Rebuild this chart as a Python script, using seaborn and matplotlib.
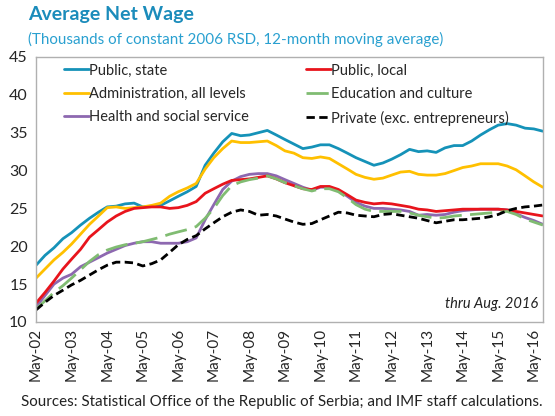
import matplotlib
matplotlib.use('Agg')
import pandas as pd
import matplotlib.pyplot as plt
import matplotlib.dates as mdates
import seaborn as sns

# quarterly readings, May-02 .. Aug-16
dates = pd.date_range("2002-05-01", periods=58, freq="3MS")

public_state = [17.5, 18.8, 19.8, 21.0, 21.8, 22.8, 23.7, 24.5, 25.2, 25.3,
                25.6, 25.7, 25.2, 25.3, 25.4, 26.0, 26.6, 27.2, 27.9, 30.7,
                32.3, 33.8, 34.9, 34.6, 34.7, 35.0, 35.3, 34.7, 34.1, 33.5,
                32.9, 33.1, 33.4, 33.4, 32.9, 32.3, 31.7, 31.2, 30.7, 31.0,
                31.5, 32.1, 32.8, 32.5, 32.6, 32.4, 33.0, 33.3, 33.3, 33.9,
                34.7, 35.4, 36.0, 36.2, 36.0, 35.6, 35.5, 35.2]
public_local = [12.5, 13.9, 15.4, 17.0, 18.3, 19.6, 21.2, 22.2, 23.2, 24.0,
                24.6, 25.0, 25.1, 25.2, 25.2, 25.0, 25.1, 25.4, 25.9, 27.0,
                27.6, 28.2, 28.7, 28.8, 28.9, 29.1, 29.3, 28.9, 28.4, 28.0,
                27.6, 27.5, 27.9, 27.9, 27.5, 26.8, 26.1, 25.8, 25.6, 25.7,
                25.6, 25.4, 25.2, 24.9, 24.8, 24.6, 24.7, 24.8, 24.9, 24.9,
                24.9, 24.9, 24.9, 24.8, 24.6, 24.4, 24.2, 24.0]
administration = [15.8, 17.0, 18.2, 19.2, 20.3, 21.6, 22.9, 24.0, 25.1, 25.2,
                  25.0, 25.1, 25.2, 25.4, 25.7, 26.6, 27.2, 27.7, 28.3, 30.2,
                  31.7, 32.9, 33.9, 33.7, 33.7, 33.8, 33.9, 33.3, 32.6, 32.3,
                  31.7, 31.6, 31.8, 31.6, 30.9, 30.2, 29.5, 29.1, 28.85, 29.0,
                  29.4, 29.8, 29.9, 29.5, 29.4, 29.4, 29.6, 30.0, 30.4, 30.6,
                  30.9, 30.9, 30.9, 30.6, 30.1, 29.3, 28.5, 27.8]
education = [11.7, 12.8, 13.9, 14.8, 15.8, 16.9, 18.0, 18.9, 19.5, 19.9,
             20.2, 20.4, 20.6, 20.9, 21.2, 21.6, 21.9, 22.2, 22.6, 23.7,
             25.0, 26.7, 28.0, 28.5, 28.8, 29.0, 29.3, 28.9, 28.4, 28.0,
             27.6, 27.3, 27.6, 27.6, 27.2, 26.4, 25.5, 24.9, 24.6, 24.6,
             24.6, 24.6, 24.4, 24.1, 23.9, 23.7, 23.8, 24.0, 24.1, 24.2,
             24.3, 24.4, 24.5, 24.6, 24.2, 23.6, 23.2, 22.8]
health = [12.0, 13.5, 15.0, 15.8, 16.3, 17.3, 17.9, 18.5, 19.1, 19.6,
          20.1, 20.4, 20.6, 20.6, 20.4, 20.4, 20.4, 20.6, 21.1, 23.5,
          25.5, 27.5, 28.6, 29.2, 29.5, 29.6, 29.6, 29.3, 28.8, 28.3,
          27.8, 27.4, 27.8, 27.8, 27.4, 26.6, 25.8, 25.3, 25.0, 25.0,
          24.9, 24.8, 24.6, 24.1, 24.2, 24.1, 24.2, 24.5, 24.7, 24.8,
          24.9, 24.9, 24.9, 24.8, 24.3, 23.8, 23.4, 22.9]
private = [11.6, 12.6, 13.5, 14.2, 14.9, 15.5, 16.2, 16.9, 17.5, 17.9,
           17.9, 17.8, 17.4, 17.7, 18.2, 19.2, 20.2, 20.9, 21.4, 22.3,
           23.1, 23.9, 24.5, 24.8, 24.6, 24.1, 24.2, 24.0, 23.6, 23.2,
           22.9, 23.0, 23.5, 24.0, 24.5, 24.4, 24.1, 24.0, 23.9, 24.2,
           24.3, 24.1, 23.9, 23.7, 23.4, 23.1, 23.3, 23.5, 23.5, 23.6,
           23.7, 23.9, 24.2, 24.7, 25.0, 25.2, 25.3, 25.45]

# legend order: column-major for ncol=2
series = [
    ("Public, state", public_state, "#1592b8", None),
    ("Administration, all levels", administration, "#ffc000", None),
    ("Health and social service", health, "#8d68b0", None),
    ("Public, local", public_local, "#e8141c", None),
    ("Education and culture", education, "#80bc72", (8, 3)),
    ("Private (exc. entrepreneurs)", private, "#000000", (3, 1.6)),
]

sns.set_theme(style="white")
plt.rcParams['font.family'] = ['Lato', 'DejaVu Sans']

fig = plt.figure(figsize=(5.55, 4.16), dpi=100)
ax = fig.add_axes([0.065, 0.226, 0.913, 0.637])

for name, vals, col, dash in series:
    df = pd.DataFrame({"date": dates, "value": vals})
    sns.lineplot(data=df, x="date", y="value", ax=ax, color=col,
                 lw=2.0, label=name)
    if dash is not None:
        ax.lines[-1].set_dashes(dash)

ax.set_xlim(pd.Timestamp("2002-05-01"), pd.Timestamp("2016-08-01"))
ax.set_ylim(10, 45)
ax.set_yticks(range(10, 46, 5))
ax.xaxis.set_major_locator(mdates.YearLocator(month=5, day=1))
ax.xaxis.set_major_formatter(mdates.DateFormatter("%b-%y"))
ax.tick_params(axis='x', rotation=90, labelsize=11, direction='in',
               length=4, color='#999999', pad=4)
ax.tick_params(axis='y', labelsize=11.5, direction='in', length=4,
               color='#999999', pad=6)
ax.set_xlabel("")
ax.set_ylabel("")
for s in ax.spines.values():
    s.set_color('#b0b0b0')
    s.set_linewidth(1.0)

ax.legend(ncol=2, loc='upper left', bbox_to_anchor=(0.03, 1.025),
          frameon=False, fontsize=10.5, handlelength=1.7, handletextpad=0.0,
          columnspacing=3.9, labelspacing=0.65)

ax.text(0.99, 0.04, "thru Aug. 2016", transform=ax.transAxes, ha='right',
        va='bottom', fontsize=10.5, style='italic', color='#222222')

fig.text(0.05, 0.965, "Average Net Wage", fontsize=14, fontweight='bold',
         color='#1b8cbb', va='center', ha='left')
fig.text(0.05, 0.905, "(Thousands of constant 2006 RSD, 12-month moving average)",
         fontsize=10.9, color='#29a0d0', va='center', ha='left')
fig.text(0.508, 0.018, "Sources: Statistical Office of the Republic of Serbia; "
         "and IMF staff calculations.", fontsize=10.9, ha='center',
         va='bottom', color='#222222')

plt.savefig("out.png", dpi=100)
plt.close()
